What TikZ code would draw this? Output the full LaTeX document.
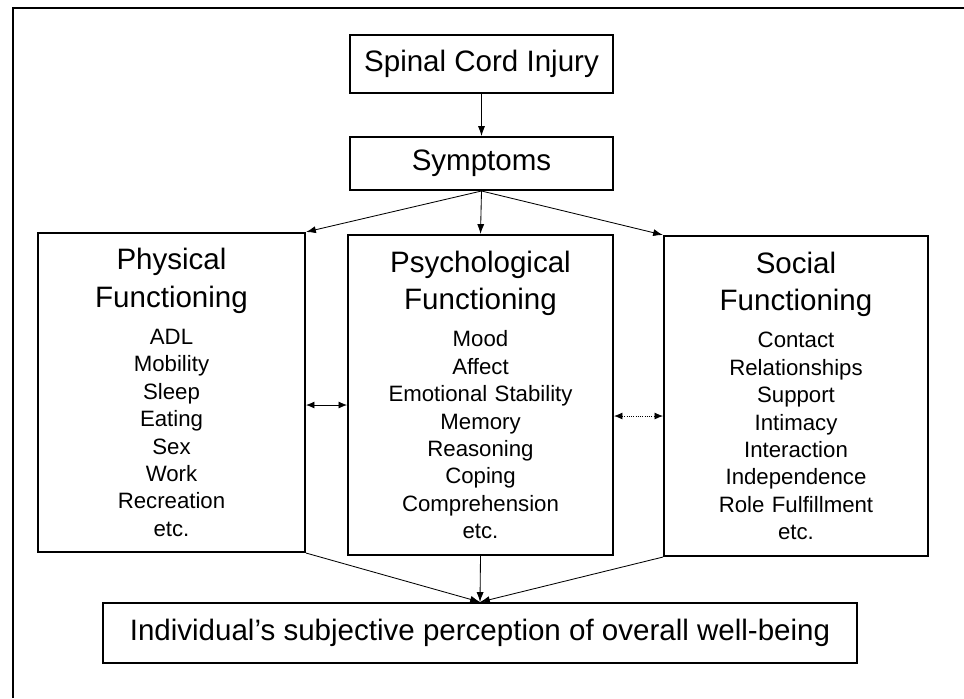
\documentclass[tikz,border=0pt]{standalone}
\usepackage{fontspec}
\setmainfont{Liberation Sans}
\usetikzlibrary{arrows.meta}

\begin{document}
\begin{tikzpicture}
	[x=0.025cm, y=-0.025cm,											%one unit = one pixel of the scan
	 TitleBox/.style={draw, line width=1.4pt, inner sep=0pt, font=\fontsize{21}{25}\selectfont},
	 DomainBox/.style={draw, line width=1.4pt, inner sep=0pt, text width=6.4cm, align=center, font=\fontsize{15.8}{19.5}\selectfont},
	 FlowArrow/.style={-{Latex[length=7pt, width=5pt]}, line width=0.6pt},
	 LinkArrow/.style={{Latex[length=6pt, width=5pt]}-{Latex[length=6pt, width=5pt]}, line width=0.6pt}
	]
	
	\def\DomHead#1#2{{\fontsize{21}{26.5}\selectfont #1\\#2\par}\vspace{7pt}};	%two-line heading of a domain box
	
	\useasboundingbox (0,0) rectangle (964,698);
	\draw[line width=1.2pt] (13,698) -- (13,8) -- (964,8);		%frame of the scan
	
	\node[TitleBox, minimum width=6.575cm, minimum height=1.45cm] (sci) at (481.5,64) {Spinal Cord Injury};
	\node[TitleBox, minimum width=6.575cm, minimum height=1.325cm] (sym) at (481.5,163.5) {Symptoms};
	
	\node[DomainBox, minimum width=6.675cm, minimum height=7.975cm] (phy) at (171.5,392.5)
		{\DomHead{Physical}{Functioning}ADL\\Mobility\\Sleep\\Eating\\Sex\\Work\\Recreation\\etc.};
	\node[DomainBox, minimum width=6.625cm, minimum height=8cm] (psy) at (480.5,395)
		{\DomHead{Psychological}{Functioning}Mood\\Affect\\Emotional Stability\\Memory\\Reasoning\\Coping\\Comprehension\\etc.};
	\node[DomainBox, minimum width=6.6cm, minimum height=8cm] (soc) at (796,396)
		{\DomHead{Social}{Functioning}Contact\\Relationships\\Support\\Intimacy\\Interaction\\Independence\\Role Fulfillment\\etc.};
	
	\node[TitleBox, minimum width=18.85cm, minimum height=1.5cm] (well) at (480,633)
		{Individual's subjective perception of overall well-being};
	
	\coordinate (lnkL) at (0,405);		%height of the left link
	\coordinate (lnkR) at (0,416);		%height of the right link
	
	\draw[FlowArrow] (sci) -- (sym);
	\draw[FlowArrow] (sym.south) -- (phy.north east);
	\draw[FlowArrow] (sym.south) -- (psy.north);
	\draw[FlowArrow] (sym.south) -- (soc.north west);
	\draw[LinkArrow] (phy.east |- lnkL) -- (psy.west |- lnkL);
	\draw[LinkArrow, densely dotted] (psy.east |- lnkR) -- (soc.west |- lnkR);
	\draw[FlowArrow] (phy.south east) -- (well.north);
	\draw[FlowArrow] (psy.south) -- (well.north);
	\draw[FlowArrow] (soc.south west) -- (well.north);
	
\end{tikzpicture}
\end{document}
